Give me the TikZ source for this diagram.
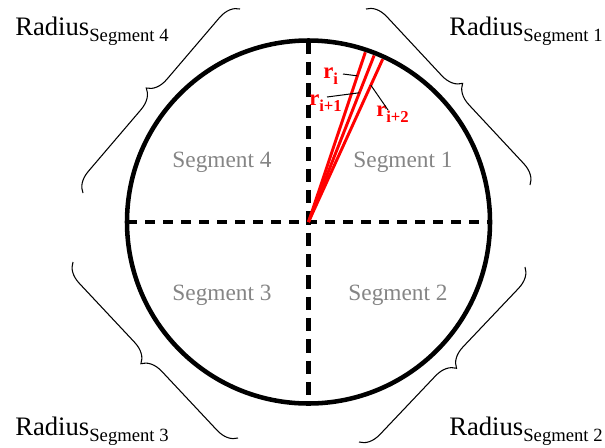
\documentclass[tikz,border=0pt]{standalone}
\usepackage{fontspec}
\setmainfont{Liberation Serif}
\usetikzlibrary{calc,decorations.pathreplacing}

\newcommand{\segsub}[1]{\raisebox{-5pt}{\fontsize{14}{16}\selectfont #1}}
\newcommand{\rsub}[1]{\raisebox{-4.5pt}{\fontsize{12.5}{14}\selectfont\bfseries #1}}

\begin{document}
\begin{tikzpicture}[x=0.75pt,y=-0.75pt,
  radlabel/.style={anchor=base west,inner sep=0pt,font=\fontsize{20}{24}\selectfont},
  seglabel/.style={anchor=base,inner sep=0pt,text=black!48,font=\fontsize{17.5}{20}\selectfont},
  rlabel/.style={anchor=base west,inner sep=0pt,text=red,font=\fontsize{17}{19}\selectfont\bfseries},
  ray/.style={red,line width=2.2pt},
  leader/.style={line width=0.75pt},
  curly/.style={line width=0.8pt,decorate,decoration={brace,amplitude=15pt}},
  axis/.style={line width=3.1pt}]
\useasboundingbox (0,0) rectangle (605,447);

\coordinate (c) at (308.5,222);
\draw[axis,dash pattern=on 7.5pt off 6pt] (c) ++(-181.5,0) -- ++(363,0);
\draw[axis,dash pattern=on 10pt off 6pt] (c) ++(0,-181.5) -- ++(0,363);

\foreach \a/\n in {71.5/1,68.5/2,65.5/3}
  \draw[ray] (c) -- ++(-\a:179) coordinate (t\n);
\draw[line width=3.4pt] (c) circle (181.5);

% segment names
\node[seglabel] (s4) at (222,167) {Segment 4};
\node[seglabel] (s1) at (403,167) {Segment 1};
\node[seglabel] (s3) at (222,300) {Segment 3};
\node[seglabel] (s2) at (398,300) {Segment 2};

% radii
\node[rlabel] (ri) at (323,78) {r\rsub{i}};
\node[rlabel] (ri1) at (309,105) {r\rsub{i+1}};
\node[rlabel] (ri2) at (376,116) {r\rsub{i+2}};
\coordinate (p1) at ($(c)!0.861!(t1)$);
\coordinate (p2) at ($(c)!0.776!(t2)$);
\coordinate (p3) at ($(c)!0.84!(t3)$);
\coordinate (q1) at (343,74);
\coordinate (q2) at (327,97);
\coordinate (q3) at (388,110);
\draw[leader] (q1) -- (p1);
\draw[leader] (q2) -- (p2);
\draw[leader] (q3) -- (p3);

% braces
\draw[curly] (366,9) -- (530,185);
\draw[curly] (525,267) -- (359,442);
\draw[curly] (238,438) -- (73,262);
\draw[curly] (83,193) -- (240,9);

\node[radlabel] (rad4) at (15,35) {Radius\segsub{Segment 4}};
\node[radlabel] (rad1) at (449,35) {Radius\segsub{Segment 1}};
\node[radlabel] (rad3) at (15,435) {Radius\segsub{Segment 3}};
\node[radlabel] (rad2) at (449,435) {Radius\segsub{Segment 2}};

\end{tikzpicture}
\end{document}
